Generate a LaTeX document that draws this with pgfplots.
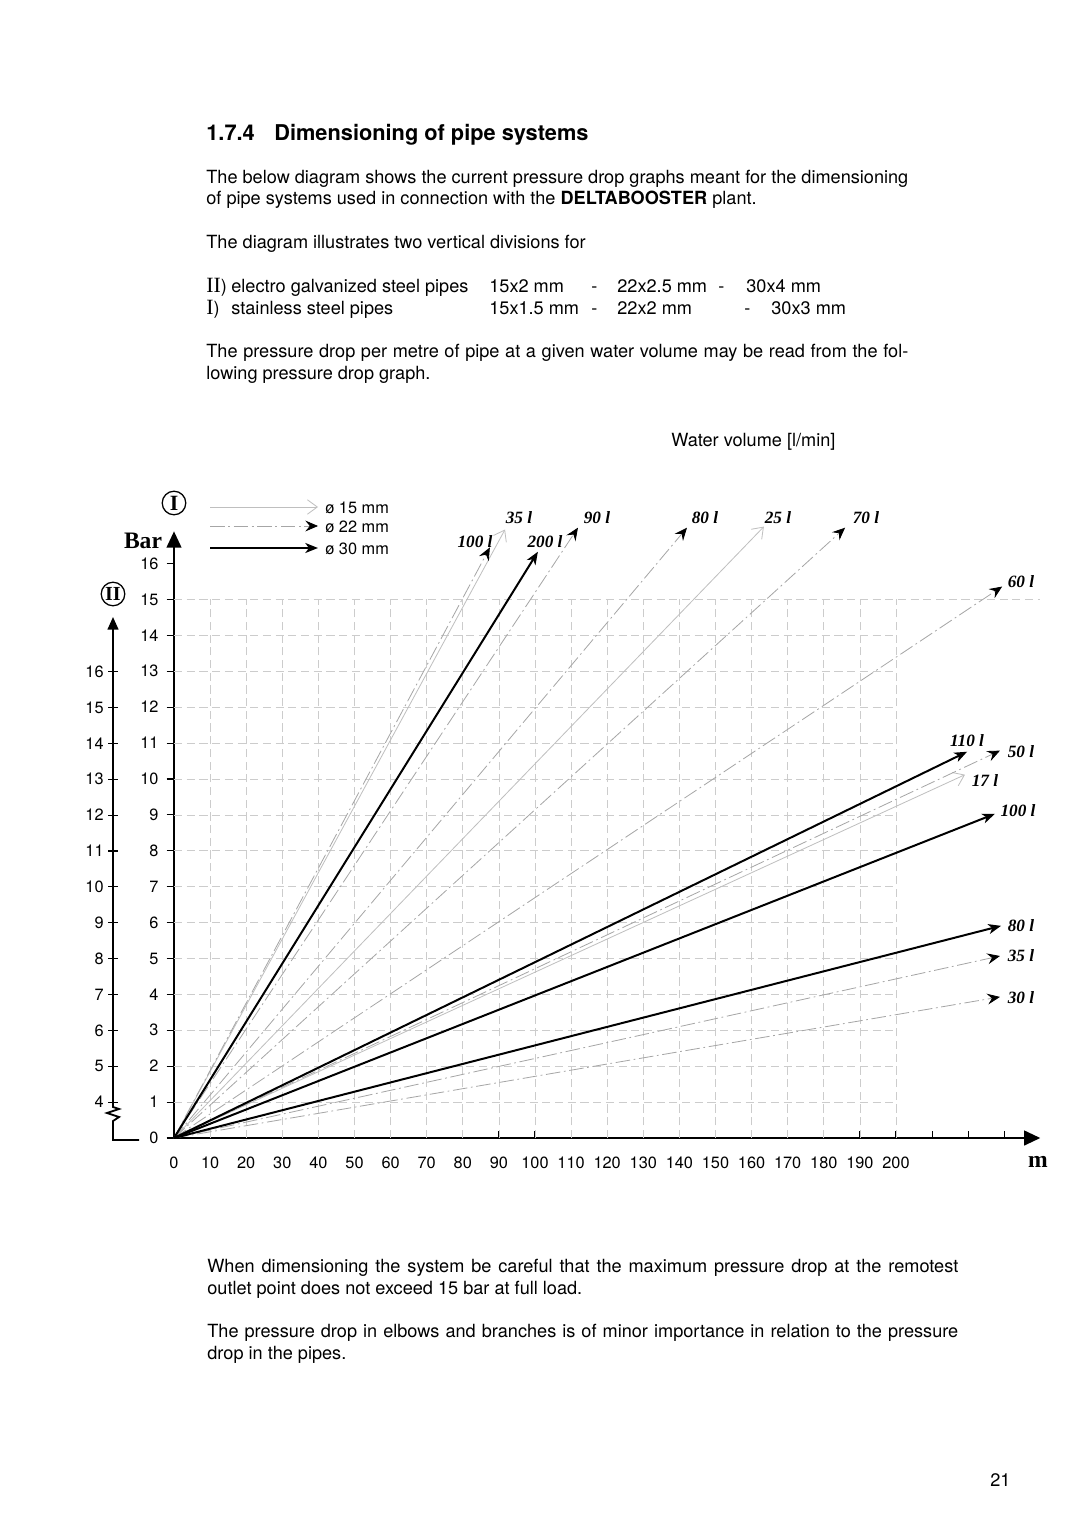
\documentclass[border=0pt]{standalone}
\usepackage{pgfplots}
\pgfplotsset{compat=1.18}
\usetikzlibrary{arrows.meta}
\usepackage{fontspec}
\setmainfont{TeX Gyre Heros}
\newfontfamily\tms{Liberation Serif}

\begin{document}
\begin{tikzpicture}[x=0.55118pt,y=-0.55118pt,
  txt/.style={anchor=base west,inner sep=0pt,font=\fontsize{10}{12}\selectfont},
  lab/.style={inner sep=0pt,font=\tms\bfseries\itshape\fontsize{9.5}{11}\selectfont},
  leg/.style={anchor=west,inner sep=0pt,font=\fontsize{9}{10}\selectfont},
  s15/.style={gray!50,line width=0.45pt,-{Straight Barb[length=5.5pt,width=8pt,line width=0.45pt]}},
  s22/.style={gray!70,line width=0.45pt,dash pattern=on 8pt off 2pt on 1pt off 2pt,-{Stealth[color=black,length=7pt,width=6pt,inset=2.5pt]}},
  s30/.style={black,line width=1.1pt,-{Stealth[length=7pt,width=5.5pt,inset=2pt]}},
  gridd/.style={gray!40,line width=0.4pt,dash pattern=on 4.5pt off 2.5pt},
]
\path (0,0) rectangle (1080,1527);

% ---------- text ----------
\node[anchor=base west,inner sep=0pt,font=\bfseries\fontsize{12}{14}\selectfont] at (206,141) {1.7.4};
\node[anchor=base west,inner sep=0pt,font=\bfseries\fontsize{12}{14}\selectfont] at (274,141) {Dimensioning of pipe systems};
\node[txt] at (206,184) {\makebox[386.9pt][s]{The below diagram shows the current pressure drop graphs meant for the dimensioning}};
\node[txt] at (206,205) {of pipe systems used in connection with the \textbf{DELTABOOSTER} plant.};
\node[txt] at (206,249) {The diagram illustrates two vertical divisions for};
\node[txt] at (206,293) {{\tms\fontsize{12}{12}\selectfont II})};
\node[txt] at (231,293) {electro galvanized steel pipes};
\node[txt] at (489,293) {15x2 mm};
\node[txt] at (591,293) {-};
\node[txt] at (617,293) {22x2.5 mm};
\node[txt] at (718,293) {-};
\node[txt] at (746,293) {30x4 mm};
\node[txt] at (206,315) {{\tms\fontsize{12}{12}\selectfont I})};
\node[txt] at (231,315) {stainless steel pipes};
\node[txt] at (489,315) {15x1.5 mm};
\node[txt] at (591,315) {-};
\node[txt] at (617,315) {22x2 mm};
\node[txt] at (744,315) {-};
\node[txt] at (771,315) {30x3 mm};
\node[txt] at (206,358) {\makebox[386.9pt][s]{The pressure drop per metre of pipe at a given water volume may be read from the fol-}};
\node[txt] at (206,380) {lowing pressure drop graph.};
\node[txt] at (671,446) {Water volume [l/min]};
\node[txt] at (207,1272) {\makebox[413.9pt][s]{When dimensioning the system be careful that the maximum pressure drop at the remotest}};
\node[txt] at (207,1294) {outlet point does not exceed 15 bar at full load.};
\node[txt] at (207,1337) {\makebox[413.9pt][s]{The pressure drop in elbows and branches is of minor importance in relation to the pressure}};
\node[txt] at (207,1359) {drop in the pipes.};
\node[txt] at (990,1486) {21};

% ---------- legend ----------
\draw[s15] (210,507) -- (318,507);
\draw[s22] (210,526) -- (318,526);
\draw[s30] (210,548) -- (318,548);
\node[leg] at (325,508) {ø 15 mm};
\node[leg] at (325,527) {ø 22 mm};
\node[leg] at (325,549) {ø 30 mm};

\node[circle,draw,line width=0.7pt,inner sep=0pt,minimum size=13pt,font=\tms\bfseries\fontsize{12}{12}\selectfont] at (174,503) {I};
\node[circle,draw,line width=0.7pt,inner sep=0pt,minimum size=13pt,font=\tms\bfseries\fontsize{11}{12}\selectfont] at (113,594) {II};
\node[font=\tms\bfseries\fontsize{13}{14}\selectfont,inner sep=0pt] at (143,541) {Bar};
\node[font=\tms\bfseries\fontsize{13}{14}\selectfont,inner sep=0pt] at (1038,1162) {m};

% ---------- secondary scale II ----------
\draw[line width=1pt,-{Triangle[length=7pt,width=6pt]}] (113,1103) -- (113,617);
\foreach \v in {4,...,16} {
  \pgfmathsetmacro{\py}{1138-(\v-3)*35.875}
  \draw[line width=0.6pt] (108,\py) -- (118,\py);
  \node[anchor=east,inner sep=0pt,font=\fontsize{9}{10}\selectfont] at (104,\py) {\v};
}
\draw[line width=1pt] (113,1103) -- (113,1107) -- (119,1109) -- (107,1113) -- (119,1117) -- (113,1121) -- (113,1140) -- (139,1140);

% ---------- main chart ----------
\begin{axis}[
  at={(95.905pt,-627.24pt)}, anchor=south west,
  scale only axis, width=477.54pt, height=334.41pt,
  xmin=0, xmax=240, ymin=0, ymax=16.9,
  clip=false,
  axis lines=left,
  x axis line style={line width=1.6pt,-{Triangle[length=9pt,width=8pt]}},
  y axis line style={line width=1.4pt,-{Triangle[length=9pt,width=8pt]}},
  xtick={0,10,...,230},
  xticklabels={0,10,20,30,40,50,60,70,80,90,100,110,120,130,140,150,160,170,180,190,200,{},{},{}},
  ytick={0,1,...,16},
  xtick align=inside, ytick align=outside,
  major tick length=4pt,
  tick style={black,line width=0.6pt},
  ticklabel style={font=\fontsize{9}{10}\selectfont},
  /pgf/number format/assume math mode=true,
  xticklabel style={yshift=-7pt},
  yticklabel style={xshift=-1pt},
]
\pgfplotsinvokeforeach{10,20,...,200}{\draw[gridd] (axis cs:#1,0) -- (axis cs:#1,15);}
\pgfplotsinvokeforeach{1,...,14}{\draw[gridd] (axis cs:0,#1) -- (axis cs:200,#1);}
\draw[gridd] (axis cs:0,15) -- (axis cs:240,15);

% phi 15 mm
\addplot[s15] coordinates {(0,0) (91.7,16.95)};   % 35 l
\addplot[s15] coordinates {(0,0) (163.4,17.03)};  % 25 l
\addplot[s15] coordinates {(0,0) (219.1,10.12)};  % 17 l
% phi 22 mm
\addplot[s22] coordinates {(0,0) (87.5,16.45)};   % 100 l
\addplot[s22] coordinates {(0,0) (111.9,17.00)};  % 90 l
\addplot[s22] coordinates {(0,0) (142.1,17.00)};  % 80 l
\addplot[s22] coordinates {(0,0) (185.9,17.00)};  % 70 l
\addplot[s22] coordinates {(0,0) (229.4,15.36)};  % 60 l
\addplot[s22] coordinates {(0,0) (228.8,10.79)};  % 50 l
\addplot[s22] coordinates {(0,0) (228.8,5.07)};   % 35 l
\addplot[s22] coordinates {(0,0) (228.8,3.93)};   % 30 l
% phi 30 mm
\addplot[s30] coordinates {(0,0) (100.8,16.33)};  % 200 l
\addplot[s30] coordinates {(0,0) (219.7,10.76)};  % 110 l
\addplot[s30] coordinates {(0,0) (227.4,9.03)};   % 100 l
\addplot[s30] coordinates {(0,0) (229.1,5.91)};   % 80 l
\end{axis}

% ---------- line labels ----------
\node[lab] at (475,542) {100 l};
\node[lab] at (519,518) {35 l};
\node[lab] at (545,542) {200 l};
\node[lab] at (597,518) {90 l};
\node[lab] at (705,518) {80 l};
\node[lab] at (778,518) {25 l};
\node[lab] at (866,518) {70 l};
\node[lab] at (1021,582) {60 l};
\node[lab] at (967,741) {110 l};
\node[lab] at (1021,752) {50 l};
\node[lab] at (985,781) {17 l};
\node[lab] at (1018,811) {100 l};
\node[lab] at (1021,926) {80 l};
\node[lab] at (1021,956) {35 l};
\node[lab] at (1021,998) {30 l};
\end{tikzpicture}
\end{document}
